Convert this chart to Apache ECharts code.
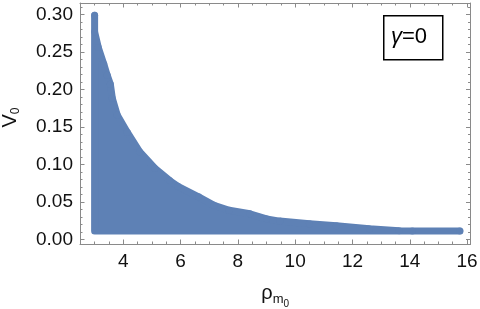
<!DOCTYPE html>
<html>
<head>
<meta charset="utf-8">
<script src="https://cdn.jsdelivr.net/npm/echarts@6/dist/echarts.min.js"></script>
<style>
html,body{margin:0;padding:0;background:#fff;}
#c{width:480px;height:309px;}
</style>
</head>
<body>
<div id="c"></div>
<script>
// Upper envelope of the point cloud (point centres)
const rhoUpper = [3.00, 3.00, 3.13, 3.32, 3.44, 3.55, 3.62, 3.79, 4.14, 4.57, 5.10, 5.62, 5.91, 6.63, 7.17, 7.70, 8.42, 9.00, 9.46, 10.50, 11.44, 12.59, 13.63, 14.09, 15.75];
const vUpper   = [0.299, 0.277, 0.256, 0.234, 0.219, 0.207, 0.188, 0.166, 0.143, 0.117, 0.095, 0.0785, 0.0707, 0.0567, 0.0453, 0.0387, 0.034, 0.0273, 0.0243, 0.0207, 0.018, 0.014, 0.0115, 0.011, 0.011];
// Lower envelope (point centres), right to left
const rhoLower = [15.75, 3.00];
const vLower   = [0.011, 0.011];
// Tick label steps
const xMajorStep = 2, xMinorStep = 0.5;
const yMajorStep = 0.05, yMinorStep = 0.01;

const FONT = 'Liberation Sans, Arial, sans-serif';
const PT = '#5E81B5';
const FRAME = '#8a8a8a';
const xMin = 2.49, xMax = 16.12, yMin = -0.0063, yMax = 0.3155;

function near(v, step) {
  const k = Math.round(v / step);
  return Math.abs(v - k * step) < step * 1e-3;
}
function xAxisDef(pos, major, labels) {
  const step = major ? xMajorStep : xMinorStep;
  const a = {
    type: 'value', gridIndex: 0, position: pos, min: xMin, max: xMax,
    minInterval: step, maxInterval: step, splitNumber: 30,
    axisLine: {show: major, onZero: false, lineStyle: {color: FRAME, width: 1}},
    axisTick: {show: true, inside: true, length: major ? 4.5 : 2.5, lineStyle: {color: FRAME, width: 1}},
    axisLabel: {show: labels, margin: 8, fontSize: 19, fontFamily: FONT, color: '#111',
      formatter: v => near(v, xMajorStep) ? String(Math.round(v)) : ''},
    splitLine: {show: false}
  };
  if (labels) {
    a.name = '{r|ρ}{m|m}{z|0}';
    a.nameLocation = 'middle';
    a.nameGap = 39;
    a.nameTextStyle = {rich: {
      r: {fontSize: 20, fontFamily: FONT, color: '#111', lineHeight: 20, verticalAlign: 'top'},
      m: {fontSize: 13, fontFamily: FONT, color: '#111', lineHeight: 13, verticalAlign: 'top', padding: [10, 0, 0, 0]},
      z: {fontSize: 10, fontFamily: FONT, color: '#111', lineHeight: 10, verticalAlign: 'top', padding: [16, 0, 0, 0]}
    }};
  }
  return a;
}
function yAxisDef(pos, major, labels) {
  const step = major ? yMajorStep : yMinorStep;
  const a = {
    type: 'value', gridIndex: 0, position: pos, min: yMin, max: yMax,
    minInterval: step, maxInterval: step, splitNumber: 40,
    axisLine: {show: major, onZero: false, lineStyle: {color: FRAME, width: 1}},
    axisTick: {show: true, inside: true, length: major ? 4.5 : 2.5, lineStyle: {color: FRAME, width: 1}},
    axisLabel: {show: labels, margin: 7, fontSize: 19, fontFamily: FONT, color: '#111',
      formatter: v => near(v, yMajorStep) ? v.toFixed(2) : ''},
    splitLine: {show: false}
  };
  if (labels) {
    a.name = '{v|V}{s|0}';
    a.nameLocation = 'middle';
    a.nameRotate = 90;
    a.nameGap = 60;
    a.nameTextStyle = {padding: [0, 0, 0, 12], rich: {
      v: {fontSize: 20, fontFamily: FONT, color: '#111', lineHeight: 20, verticalAlign: 'top'},
      s: {fontSize: 12, fontFamily: FONT, color: '#111', lineHeight: 12, verticalAlign: 'top', padding: [10, 0, 0, 0]}
    }};
  }
  return a;
}

const chart = echarts.init(document.getElementById('c'), null, {renderer: 'canvas'});
chart.setOption({
  animation: false,
  backgroundColor: '#fff',
  grid: {left: 80, right: 9.5, top: 3, bottom: 65, containLabel: false, outerBoundsMode: 'none'},
  xAxis: [xAxisDef('bottom', true, true), xAxisDef('bottom', false, false), xAxisDef('top', true, false), xAxisDef('top', false, false)],
  yAxis: [yAxisDef('left', true, true), yAxisDef('left', false, false), yAxisDef('right', true, false), yAxisDef('right', false, false)],
  series: [{
    type: 'custom',
    xAxisIndex: 0, yAxisIndex: 0,
    data: [[rhoUpper[0], vUpper[0]]],
    renderItem: function (params, api) {
      const pts = [];
      for (let i = 0; i < rhoUpper.length; i++) pts.push(api.coord([rhoUpper[i], vUpper[i]]));
      for (let i = 0; i < rhoLower.length; i++) pts.push(api.coord([rhoLower[i], vLower[i]]));
      return {type: 'polygon', shape: {points: pts},
        style: {fill: PT, stroke: PT, lineWidth: 7, lineJoin: 'round'}};
    }
  }, {
    type: 'scatter',
    xAxisIndex: 0, yAxisIndex: 0,
    symbolSize: 7,
    itemStyle: {color: PT},
    data: rhoUpper.map((r, i) => [r, vUpper[i]])
  }],
  graphic: [{
    type: 'rect', left: 383, top: 15,
    shape: {width: 59, height: 44},
    style: {fill: '#fff', stroke: '#000', lineWidth: 1.5}
  }, {
    type: 'text', x: 409, y: 37,
    style: {text: '{g|γ}{n|=0}', align: 'center', verticalAlign: 'middle',
      rich: {g: {fontSize: 22, fontFamily: FONT, fontStyle: 'italic', fill: '#000'},
             n: {fontSize: 22, fontFamily: FONT, fill: '#000'}}}
  }]
});
</script>
</body>
</html>
